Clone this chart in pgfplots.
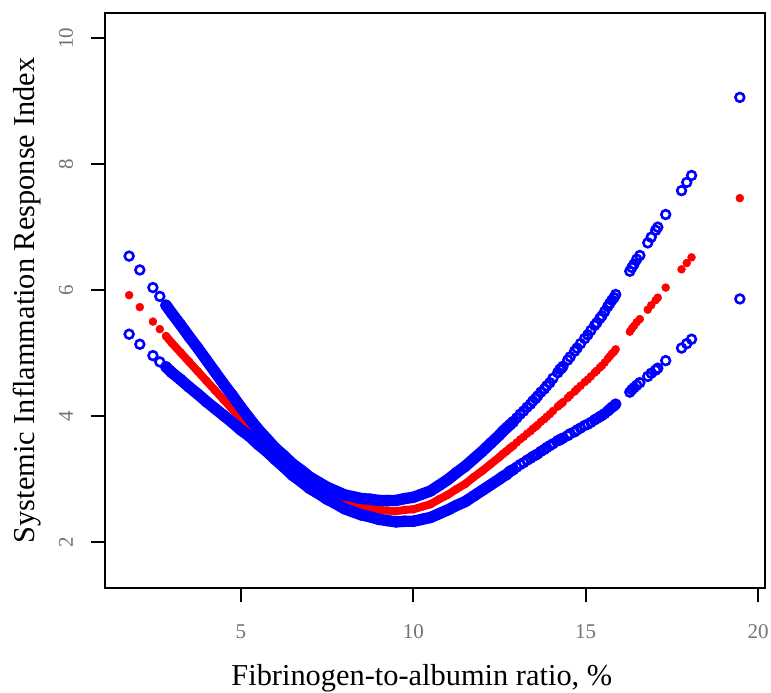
\documentclass[border=0pt]{standalone}
\usepackage{fontspec}
\setmainfont{Liberation Serif}
\usepackage{pgfplots}
\usepackage{pgfplotstable}
\pgfplotsset{compat=1.18}

% x, lower CI, fit, upper CI
\pgfplotstableread{
x     L     f     U
1.76  5.30  5.92  6.54
2.07  5.14  5.73  6.32
2.45  4.96  5.50  6.04
2.65  4.86  5.38  5.90
2.83  4.78  5.27  5.76
3.00  4.69  5.16  5.63
3.25  4.58  5.01  5.45
3.50  4.46  4.86  5.26
3.75  4.35  4.71  5.08
4.00  4.23  4.56  4.89
4.25  4.12  4.41  4.70
4.50  4.01  4.26  4.51
4.75  3.90  4.11  4.33
5.00  3.78  3.96  4.14
5.25  3.68  3.82  3.96
5.50  3.55  3.67  3.79
5.75  3.44  3.54  3.64
6.00  3.31  3.40  3.49
6.25  3.19  3.28  3.37
6.50  3.06  3.15  3.24
6.75  2.96  3.05  3.14
7.00  2.85  2.94  3.03
7.25  2.77  2.86  2.95
7.50  2.68  2.77  2.87
7.75  2.61  2.71  2.81
8.00  2.53  2.64  2.75
8.25  2.48  2.60  2.72
8.50  2.43  2.56  2.69
8.75  2.40  2.54  2.68
9.00  2.36  2.51  2.66
9.25  2.34  2.50  2.66
9.50  2.32  2.49  2.66
9.75  2.33  2.51  2.69
10.00 2.33  2.52  2.71
10.25 2.36  2.56  2.76
10.50 2.39  2.60  2.81
10.75 2.45  2.68  2.90
11.00 2.51  2.75  2.99
11.25 2.58  2.84  3.10
11.50 2.64  2.92  3.20
11.75 2.73  3.03  3.32
12.00 2.82  3.13  3.44
12.25 2.91  3.24  3.57
12.50 3.00  3.35  3.70
12.60 3.04  3.40  3.76
12.70 3.07  3.44  3.81
12.80 3.12  3.49  3.86
12.90 3.15  3.53  3.91
13.00 3.19  3.58  3.97
13.10 3.23  3.63  4.03
13.20 3.26  3.67  4.08
13.30 3.30  3.72  4.14
13.40 3.33  3.76  4.19
13.47 3.36  3.80  4.24
13.55 3.38  3.83  4.28
13.61 3.40  3.86  4.32
13.70 3.44  3.91  4.38
13.80 3.47  3.95  4.43
13.87 3.50  3.99  4.48
13.96 3.53  4.03  4.53
14.05 3.56  4.08  4.60
14.19 3.61  4.15  4.69
14.25 3.62  4.18  4.74
14.30 3.64  4.20  4.76
14.34 3.65  4.22  4.79
14.48 3.69  4.29  4.89
14.55 3.72  4.33  4.94
14.68 3.75  4.39  5.03
14.75 3.78  4.43  5.08
14.85 3.81  4.48  5.15
14.97 3.85  4.54  5.23
15.06 3.87  4.58  5.29
15.15 3.90  4.63  5.36
15.26 3.94  4.69  5.44
15.32 3.96  4.72  5.48
15.41 3.99  4.77  5.55
15.47 4.01  4.80  5.59
15.55 4.04  4.85  5.66
15.64 4.08  4.91  5.74
15.70 4.11  4.95  5.79
15.76 4.14  4.99  5.84
15.82 4.16  5.02  5.88
15.87 4.19  5.06  5.93
16.28 4.38  5.34  6.30
16.34 4.42  5.39  6.36
16.40 4.45  5.43  6.41
16.48 4.49  5.49  6.49
16.57 4.53  5.54  6.55
16.80 4.63  5.69  6.75
16.90 4.68  5.76  6.84
17.03 4.73  5.84  6.95
17.09 4.76  5.88  7.00
17.32 4.88  6.04  7.20
17.78 5.08  6.33  7.58
17.93 5.15  6.43  7.71
18.07 5.22  6.52  7.82
19.47 5.86  7.46  9.06
}\ci

\begin{document}
\begin{tikzpicture}
\begin{axis}[
    at={(0,0)}, anchor=south west,
    scale only axis,
    width=330pt, height=287.5pt,
    xmin=1.06, xmax=20.2,
    ymin=1.27, ymax=10.4,
    clip marker paths=true,
    xtick={5,10,15,20},
    ytick={2,4,6,8,10},
    tick pos=left,
    tick align=outside,
    major tick length=7pt,
    axis line style={line width=1.2pt},
    tick style={black, line width=1.1pt},
    /pgf/number format/assume math mode=true,
    ticklabel style={font=\fontsize{10.5}{12}\selectfont, text=black!55},
    yticklabel style={rotate=90, anchor=center, yshift=12.5pt},
    xticklabel style={anchor=center, yshift=-15pt},
    xlabel={Fibrinogen-to-albumin ratio, \%},
    ylabel={Systemic Inflammation Response Index},
    label style={font=\fontsize{15.2}{18}\selectfont},
    xlabel style={at={(axis description cs:0.48,0)}, anchor=base, yshift=-48.5pt},
    ylabel style={at={(axis description cs:0,0.5)}, anchor=center, yshift=39pt},
]
% fitted curve
\addplot[red, line width=4pt, line cap=round, line join=round, no marks,
    restrict x to domain=2.8:12.95] table[x=x, y=f] {\ci};
\addplot[red, only marks, mark=*, mark size=2pt,
    mark options={draw=red, fill=red, line width=0.2pt}] table[x=x, y=f] {\ci};
% upper and lower limits
\addplot[blue, line width=5.7pt, line cap=round, line join=round, no marks,
    restrict x to domain=2.8:12.95] table[x=x, y=U] {\ci};
\addplot[blue, only marks, mark=o, mark size=2.2pt,
    mark options={draw=blue, line width=1.3pt}] table[x=x, y=U] {\ci};
\addplot[blue, line width=5.7pt, line cap=round, line join=round, no marks,
    restrict x to domain=2.8:12.95] table[x=x, y=L] {\ci};
\addplot[blue, only marks, mark=o, mark size=2.2pt,
    mark options={draw=blue, line width=1.3pt}] table[x=x, y=L] {\ci};
\end{axis}
\pgfresetboundingbox
\path[use as bounding box] (-52.5pt,-52pt) rectangle (333pt,294pt);
\end{tikzpicture}
\end{document}
